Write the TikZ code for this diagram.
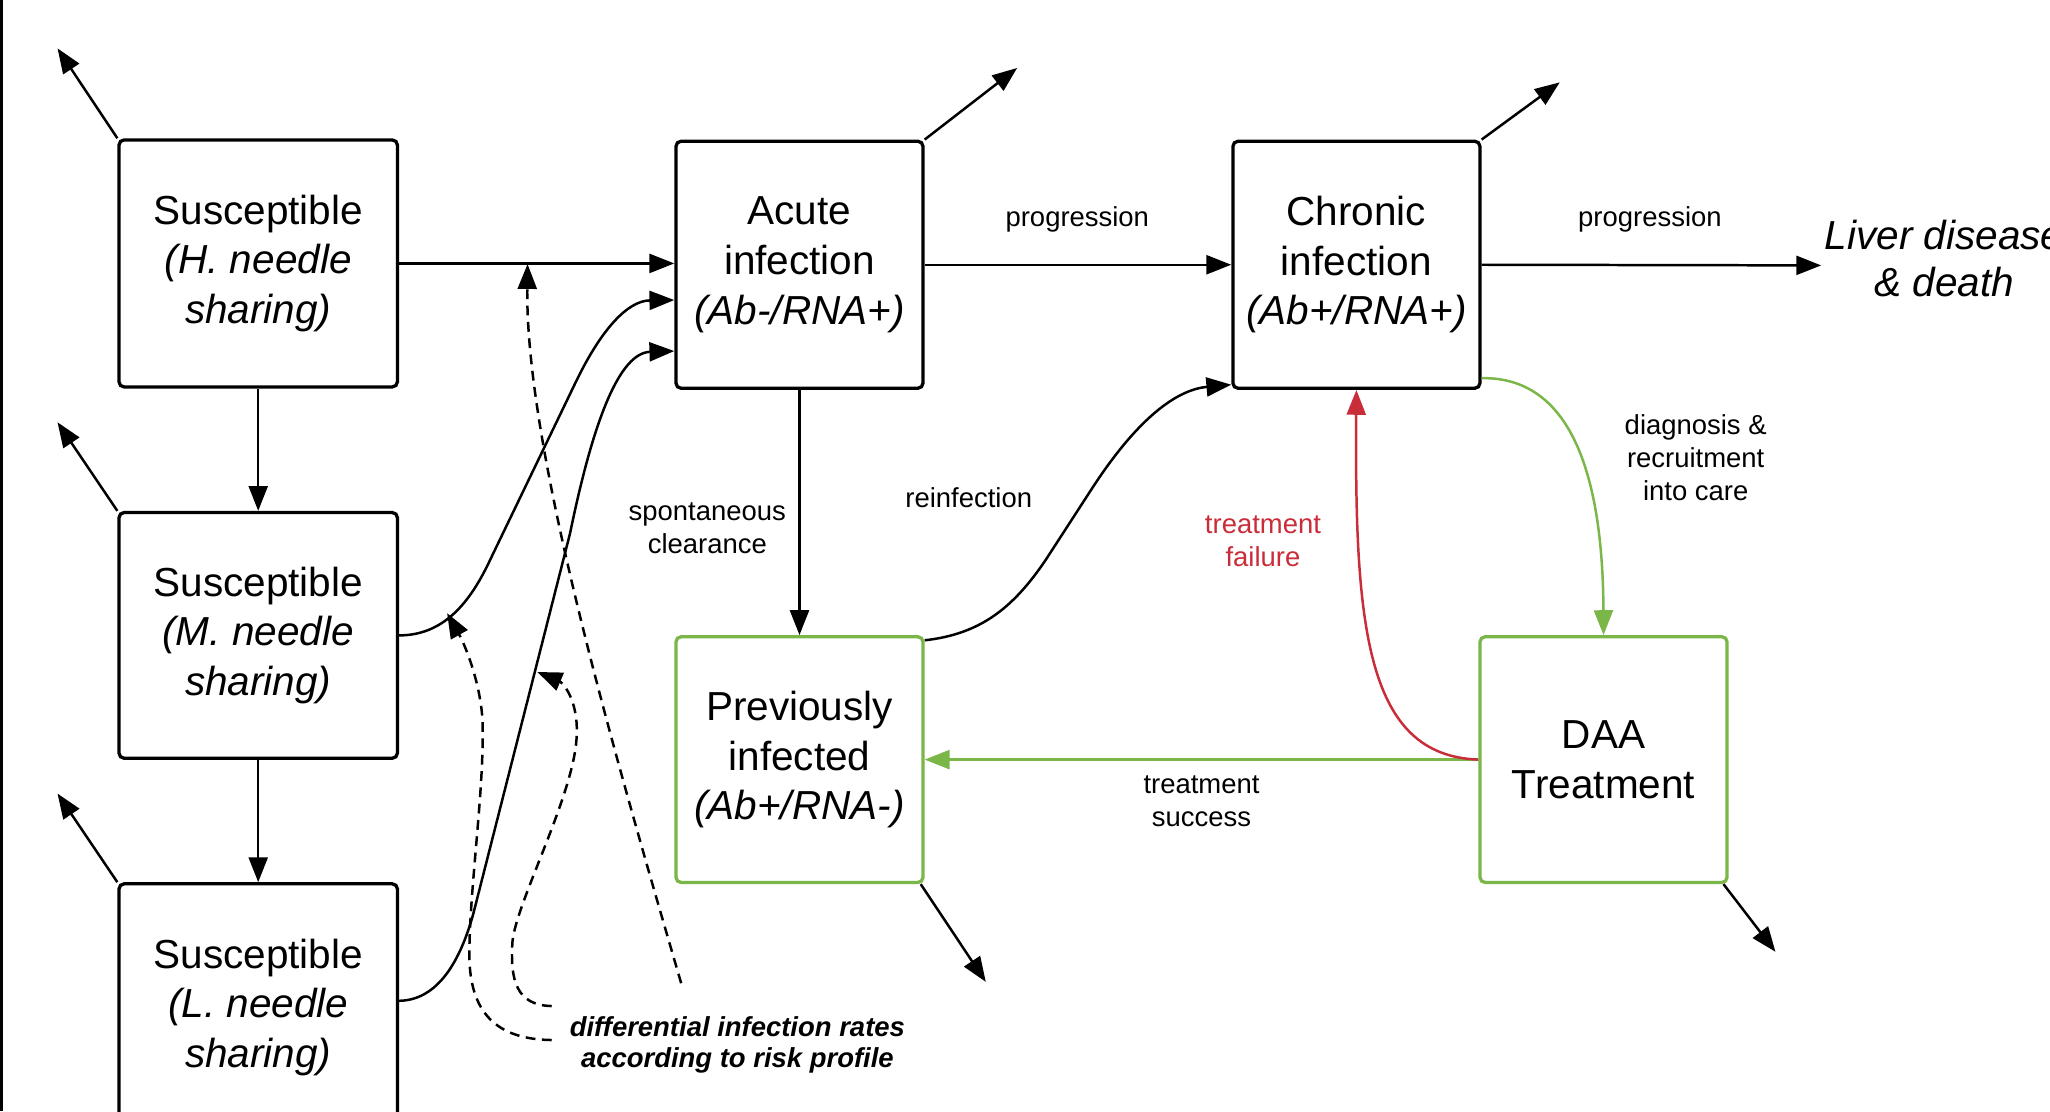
\documentclass[tikz,border=0pt]{standalone}
\usepackage{fontspec}
\setmainfont{Liberation Sans}
\usetikzlibrary{arrows.meta,calc}
\definecolor{lgreen}{HTML}{7AB648}
\definecolor{lred}{HTML}{C92D39}
\newcommand\boxfont{\fontsize{31}{38}\selectfont}
\newcommand\lblfont{\fontsize{21}{25}\selectfont}
\begin{document}
\begin{tikzpicture}[x=1pt,y=-1pt,
  box/.style={draw, line width=2.5pt, rounded corners=4pt, align=center, inner sep=0pt,
    font=\boxfont, minimum width=189pt, minimum height=189pt},
  sbox/.style={box, minimum width=213pt},
  gbox/.style={box, draw=lgreen, minimum height=188pt},
  conn/.style={line width=1.9pt, -{Triangle[length=19pt,width=14.5pt]}},
  gconn/.style={conn, color=lgreen},
  rconn/.style={conn, color=lred},
  dconn/.style={conn, dash pattern=on 7.5pt off 5pt},
  lbl/.style={font=\lblfont, align=center, inner sep=0pt}
]
\path[use as bounding box] (0,0) rectangle (1568,850);
\draw[line width=2.2pt] (1,0) -- (1,850);

% boxes
\node[sbox] (S1) at (197.5,201.5) {Susceptible\\\textit{(H. needle}\\\textit{sharing)}};
\node[sbox, minimum height=188pt] (S2) at (197.5,486) {Susceptible\\\textit{(M. needle}\\\textit{sharing)}};
\node[sbox] (S3) at (197.5,770.5) {Susceptible\\\textit{(L. needle}\\\textit{sharing)}};
\node[box] (A) at (611.5,202.5) {Acute\\infection\\\textit{(Ab-/RNA+)}};
\node[box] (C) at (1037.5,202.5) {Chronic\\infection\\\textit{(Ab+/RNA+)}};
\node[gbox] (P) at (611.5,581) {Previously\\infected\\\textit{(Ab+/RNA-)}};
\node[gbox] (D) at (1226.5,581) {DAA\\Treatment};
\node[font=\fontsize{31}{36}\selectfont\itshape, align=center, inner sep=0pt] (L) at (1487,198) {Liver disease\\\& death};

% free ends
\coordinate (e1) at (44,37);
\coordinate (e2) at (44,323);
\coordinate (e3) at (44,607);
\coordinate (eA) at (778,52);
\coordinate (eC) at (1193,63);
\coordinate (eP) at (754,751);
\coordinate (eD) at (1358,728);
\coordinate (eL) at (1393,203);

% straight flows
\draw[conn] (S1.east) -- (S1.east -| A.west);
\draw[conn] (A.east) -- (C.west);
\draw[conn] (C.east) -- (eL);
\draw[conn] (S1.south) -- (S2.north);
\draw[conn] (S2.south) -- (S3.north);
\draw[conn] (A.south) -- (P.north);

% exits
\draw[conn] (S1.north west) -- (e1);
\draw[conn] (S2.north west) -- (e2);
\draw[conn] (S3.north west) -- (e3);
\draw[conn] (A.north east) -- (eA);
\draw[conn] (C.north east) -- (eC);
\draw[conn] ($(P.south east)+(-3,0)$) -- (eP);
\draw[conn] ($(D.south east)+(-4,0)$) -- (eD);

% infection curves
\draw[conn] (S2.east) .. controls (340,486) and (360,460) .. (375,428)
  -- (441,291) .. controls (460,252) and (480,230) .. ($(A.west)+(0,27)$);
\draw[conn] ($(S3.east)+(0,-5)$) .. controls (335,765) and (352,735) .. (362,699)
  -- (436,408) .. controls (450,340) and (470,270) .. ($(A.west)+(0,66)$);
\draw[conn] ($(P.north east)+(0,4)$) .. controls (750,485) and (775,465) .. (800,428)
  -- (835,374) .. controls (870,320) and (900,298) .. ($(C.south west)+(0,-4)$);

% treatment
\draw[gconn] ($(C.south east)+(0,-9)$) .. controls (1200,288) and (1226,360) .. (D.north);
\draw[gconn] (D.west) -- (D.west -| P.east);
\draw[rconn] (D.west) .. controls (1045,578) and (1036,480) .. (C.south);

% dashed risk arrows
\coordinate (d1s) at (521,752);
\coordinate (d1e) at (403.5,202);
\coordinate (d2s) at (422,795.5);
\coordinate (d2e) at (342,469);
\coordinate (d3s) at (422,769.5);
\coordinate (d3e) at (411,514);
\draw[dconn] (d1s) .. controls (465,560) and (402,340) .. (d1e);
\draw[dconn] (d2s) .. controls (380,795) and (359,775) .. (359,730)
  .. controls (359,680) and (371,600) .. (369,550)
  .. controls (367,520) and (355,492) .. (d2e);
\draw[dconn] (d3s) .. controls (395,769) and (390,750) .. (392,720)
  .. controls (395,690) and (438,610) .. (441,565)
  .. controls (443,535) and (430,522) .. (d3e);

% labels
\node[lbl] (lp1) at (824,168) {progression};
\node[lbl] (lp2) at (1262,168) {progression};
\node[lbl] (lsc) at (541,404) {spontaneous\\clearance};
\node[lbl] (lre) at (741,381) {reinfection};
\node[lbl, text=lred] (ltf) at (966,414) {treatment\\failure};
\node[lbl] (ldg) at (1297,350) {diagnosis \&\\recruitment\\into care};
\node[lbl] (lts) at (919,613) {treatment\\success};
\node[lbl, font=\fontsize{21}{24}\selectfont\bfseries\itshape] (ldi) at (564,799) {differential infection rates\\according to risk profile};
\end{tikzpicture}
\end{document}
